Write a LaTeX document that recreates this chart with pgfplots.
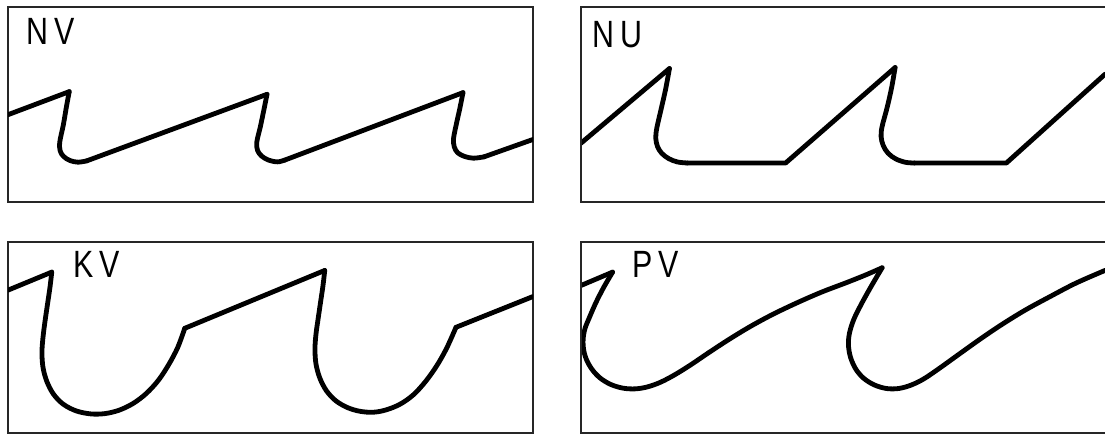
\documentclass[border=0pt]{standalone}
\usepackage{fontspec}
\usepackage{pgfplots}
\pgfplotsset{compat=1.18}
\newfontfamily\labfont[FakeStretch=0.8]{Liberation Sans}

% panels are read in pixel units off the scan, so y runs downward
\pgfplotsset{
  panel/.style={scale only axis, ticks=none, y dir=reverse, anchor=south west,
    axis line style={line width=1.1bp, black!85}},
  wave/.style={black, line width=2.4bp, line join=round, line cap=round, no marks},
  hook/.style={wave, smooth, tension=0.55},
}
\tikzset{lab/.style={anchor=base west, inner sep=0pt,
  font={\labfont\fontsize{19bp}{19bp}\selectfont}}}

\begin{document}
\begin{tikzpicture}
\path[use as bounding box] (0bp,0bp) rectangle (552.5bp,217bp);

% NV
\begin{axis}[panel, at={(4bp,116bp)}, width=262.5bp, height=97.5bp,
  xmin=25, xmax=1525, ymin=22, ymax=605]
  \addplot[wave] coordinates {(25,344) (200,275)};
  \addplot[hook] coordinates {(200,275) (192,320) (183,375) (173,425) (174,452) (184,469) (202,481) (225,486) (250,482)};
  \addplot[wave] coordinates {(250,482) (765,283)};
  \addplot[hook] coordinates {(765,283) (756,330) (746,380) (736,425) (738,451) (750,468) (770,480) (795,485) (815,480)};
  \addplot[wave] coordinates {(815,480) (1325,278)};
  \addplot[hook] coordinates {(1325,278) (1316,325) (1306,372) (1298,415) (1300,440) (1310,458) (1330,469) (1355,474) (1385,470)};
  \addplot[wave] coordinates {(1385,470) (1525,418)};
\end{axis}

% NU
\begin{axis}[panel, hide axis, at={(290.5bp,116bp)}, width=262bp, height=97.5bp,
  xmin=75, xmax=1568, ymin=25, ymax=605]
  \addplot[wave] coordinates {(75,430) (327,208)};
  \addplot[hook] coordinates {(327,208) (316,270) (303,330) (291,385) (288,415) (293,440) (305,460) (325,476) (350,486) (378,489)};
  \addplot[wave] coordinates {(378,489) (658,489) (970,205)};
  \addplot[hook] coordinates {(970,205) (960,265) (947,325) (933,380) (930,410) (936,437) (950,460) (972,477) (1000,487) (1025,489)};
  \addplot[wave] coordinates {(1025,489) (1287,489) (1568,225)};
\end{axis}
\draw[line width=1.1bp, black!85] (553bp,116bp) -- (290.5bp,116bp) -- (290.5bp,213.5bp) -- (553bp,213.5bp);

% KV
\begin{axis}[panel, at={(4bp,0.5bp)}, width=262.5bp, height=95.5bp,
  xmin=25, xmax=1525, ymin=75, ymax=646]
  \addplot[wave] coordinates {(25,219) (150,165)};
  \addplot[hook] coordinates {(150,165) (145,210) (138,260) (131,310) (125,360) (122,405) (125,450) (136,492) (155,530) (183,560) (220,580) (262,589) (302,588) (342,578) (382,558) (420,528) (455,488) (485,440) (510,390) (530,333)};
  \addplot[wave] coordinates {(530,333) (930,160)};
  \addplot[hook] coordinates {(930,160) (925,205) (918,255) (911,305) (905,350) (902,395) (905,440) (916,482) (935,520) (962,550) (995,570) (1030,581) (1068,584) (1105,577) (1145,560) (1183,532) (1218,492) (1250,445) (1278,393) (1305,330)};
  \addplot[wave] coordinates {(1305,330) (1525,238)};
\end{axis}

% PV
\begin{axis}[panel, hide axis, at={(290.5bp,0.5bp)}, width=262bp, height=95.5bp,
  xmin=75, xmax=1568, ymin=75, ymax=646]
  \addplot[wave] coordinates {(75,205) (165,165)};
  \addplot[hook] coordinates {(165,165) (140,210) (118,255) (100,298) (86,335) (81,368) (83,400) (92,430) (108,458) (130,482) (160,501) (195,512) (230,514) (265,508) (302,494) (342,472) (388,442) (440,405) (500,364) (560,326) (622,291) (690,257) (760,225) (830,197) (885,174) (933,152)};
  \addplot[hook] coordinates {(933,152) (916,182) (895,220) (872,264) (852,307) (840,347) (837,383) (843,420) (858,455) (880,482) (910,502) (945,513) (980,513) (1015,503) (1052,484) (1097,452) (1150,412) (1210,367) (1272,323) (1340,279) (1410,239) (1485,198) (1568,160)};
\end{axis}
\draw[line width=1.1bp, black!85] (553bp,0.5bp) -- (290.5bp,0.5bp) -- (290.5bp,96bp) -- (553bp,96bp);

\node[lab] at (13bp,194.5bp) {N\hspace{3bp}V};
\node[lab] at (296bp,193bp) {N\hspace{3bp}U};
\node[lab] at (36.5bp,78bp) {K\hspace{3bp}V};
\node[lab] at (316bp,78.2bp) {P\hspace{3bp}V};
\end{tikzpicture}
\end{document}
